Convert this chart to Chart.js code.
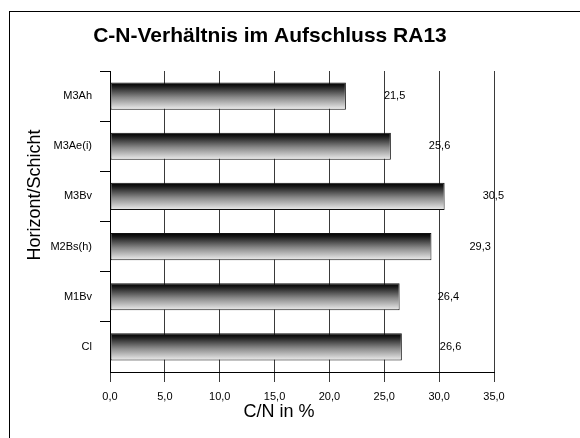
<!DOCTYPE html>
<html>
<head>
<meta charset="utf-8">
<script src="https://cdn.jsdelivr.net/npm/chart.js@4"></script>
<style>
    body { margin: 0; background: #fff; }
    #box { width: 580px; height: 438px; }
</style>
</head>
<body>
<div id="box"><canvas id="grafico" width="580" height="438"></canvas></div>
<script>
    // Horizonte des Aufschlusses RA13, von oben nach unten
    var horizonte = ['M3Ah', 'M3Ae(i)', 'M3Bv', 'M2Bs(h)', 'M1Bv', 'Cl'];
    var cnWerte = [21.5, 25.6, 30.5, 29.3, 26.4, 26.6];
    var achseMin = 0;
    var achseMax = 35;
    var achseSchritt = 5;

    var titel = 'C-N-Verhältnis im Aufschluss RA13';
    var titelX = 'C/N in %';
    var titelY = 'Horizont/Schicht';

    var schrift = "'Liberation Sans', Arial, sans-serif";

    function komma(v) {
        return v.toFixed(1).replace('.', ',');
    }

    // Verlauf schwarz -> hellgrau für jeden Balken
    function verlauf(context) {
        var chart = context.chart;
        var area = chart.chartArea;
        if (!area) return '#808080';
        var y = chart.scales.y.getPixelForValue(context.dataIndex);
        var h = (area.bottom - area.top) / horizonte.length * 0.54;
        var g = chart.ctx.createLinearGradient(0, y - h / 2, 0, y + h / 2);
        g.addColorStop(0, '#000000');
        g.addColorStop(0.12, '#151515');
        g.addColorStop(0.55, '#8a8a8a');
        g.addColorStop(1, '#eeeeee');
        return g;
    }

    // Rahmen, Titel, Achsentitel und Werte neben den Balken
    var beschriftung = {
        id: 'beschriftung',
        afterDraw: function (chart) {
            var ctx = chart.ctx;
            ctx.save();
            ctx.strokeStyle = '#000';
            ctx.lineWidth = 1;
            ctx.strokeRect(9.5, 11.5, 700, 600);

            ctx.fillStyle = '#000';
            ctx.textAlign = 'center';
            ctx.textBaseline = 'middle';
            ctx.font = 'bold 21px ' + schrift;
            ctx.fillText(titel, 270, 36);

            ctx.font = '18px ' + schrift;
            ctx.fillText(titelX, 279, 412);

            ctx.translate(35, 195);
            ctx.rotate(-Math.PI / 2);
            ctx.fillText(titelY, 0, 0);
            ctx.restore();

            ctx.save();
            ctx.font = '11px ' + schrift;
            ctx.fillStyle = '#000';
            ctx.textAlign = 'left';
            ctx.textBaseline = 'middle';
            var meta = chart.getDatasetMeta(0);
            meta.data.forEach(function (bar, i) {
                ctx.fillText(komma(cnWerte[i]), bar.x + 38, bar.y);
            });
            ctx.restore();
        }
    };

    var config = {
        type: 'bar',
        data: {
            labels: horizonte,
            datasets: [{
                label: 'C/N',
                data: cnWerte,
                backgroundColor: verlauf,
                borderColor: '#111',
                borderWidth: 1,
                borderSkipped: false,
                barPercentage: 0.54,
                categoryPercentage: 1
            }]
        },
        options: {
            indexAxis: 'y',
            responsive: false,
            animation: false,
            layout: { padding: { left: 0, top: 71, right: 86, bottom: 0 } },
            plugins: {
                legend: { display: false },
                tooltip: { enabled: false },
                title: { display: false }
            },
            scales: {
                x: {
                    min: achseMin,
                    max: achseMax,
                    afterFit: function (s) { s.height = 66; },
                    ticks: {
                        stepSize: achseSchritt,
                        color: '#000',
                        padding: 8,
                        maxRotation: 0,
                        font: { family: schrift, size: 11 },
                        callback: function (v) { return komma(v); }
                    },
                    grid: {
                        color: '#3a3a3a',
                        lineWidth: 1,
                        tickLength: 10,
                        drawTicks: true
                    },
                    border: { color: '#000', width: 1 }
                },
                y: {
                    afterFit: function (s) { s.width = 110; },
                    ticks: {
                        color: '#000',
                        padding: 8,
                        font: { family: schrift, size: 11 }
                    },
                    grid: {
                        offset: true,
                        drawOnChartArea: false,
                        drawTicks: true,
                        tickLength: 10,
                        color: function (c) { return c.index === undefined ? 'rgba(0,0,0,0)' : '#000'; }
                    },
                    border: { color: '#000', width: 1 }
                }
            }
        },
        plugins: [beschriftung]
    };

    var myChart = new Chart(document.getElementById('grafico'), config);
</script>
</body>
</html>
